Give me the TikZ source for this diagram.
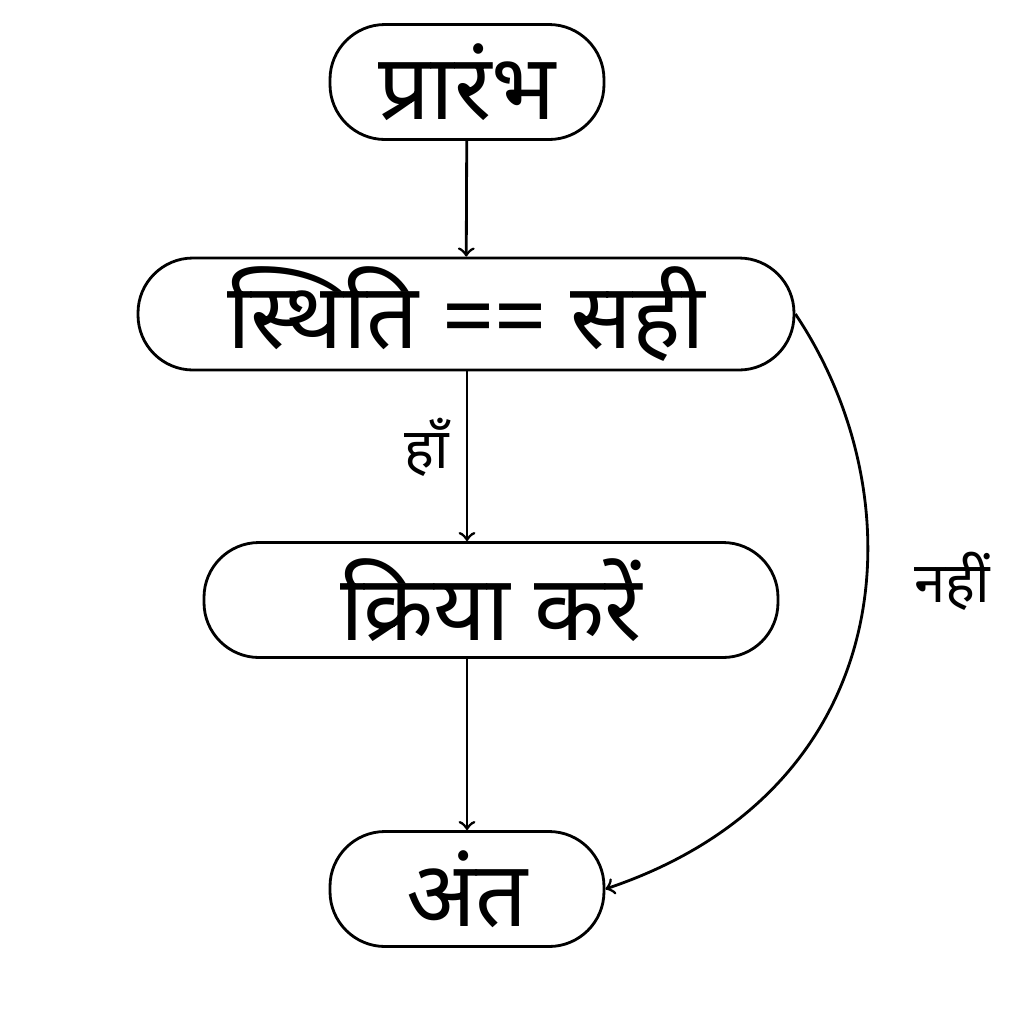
\documentclass[tikz,border=0pt]{standalone}
\usepackage{fontspec}
\setmainfont{Noto Sans}[Script=Devanagari]
\usetikzlibrary{positioning}

\begin{document}
\begin{tikzpicture}[
    box/.style={draw, thick, rounded corners=0.55cm, inner sep=1pt, font=\fontsize{26}{30}\selectfont},
    flow/.style={->, thick},
    lbl/.style={font=\fontsize{16}{20}\selectfont}
  ]
    \useasboundingbox (0,0) rectangle (10.30,-10.24);

    % Nodes
    \node[box, minimum width=2.74cm, minimum height=1.15cm] (start) at (4.67,-0.82) {प्रारंभ};
    \node[box, minimum width=6.56cm, minimum height=1.12cm] (cond) at (4.66,-3.14) {स्थिति == सही};
    \node[box, minimum width=5.74cm, minimum height=1.15cm] (act) at (4.91,-6.00) {क्रिया करें};
    \node[box, minimum width=2.74cm, minimum height=1.15cm] (stop) at (4.67,-8.89) {अंत};

    % Arrows
    \draw[flow] (start) -- (cond);
    \draw[flow] (cond.south -| start.south) -- node[lbl, left=0.05cm, pos=0.45] {हाँ} (act.north -| start.south);
    \draw[flow] (act.south -| start.south) -- (stop);
    \draw[flow] (cond.east) .. controls (9.2,-5.0) and (9.0,-7.9) .. node[lbl, right=0.35cm, pos=0.42] {नहीं} (stop.east);
\end{tikzpicture}
\end{document}
